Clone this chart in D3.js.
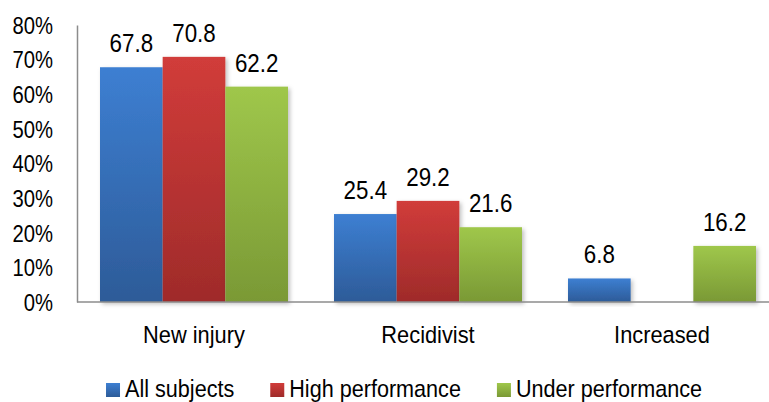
<!DOCTYPE html>
<html>
<head>
<meta charset="utf-8">
<script src="https://cdn.jsdelivr.net/npm/d3@7"></script>
<style>
  html, body { margin: 0; padding: 0; background: #fff; }
  svg { display: block; }
  text { font-family: "Liberation Sans", Arial, sans-serif; fill: #000; }
</style>
</head>
<body>
<svg id="chart" width="769" height="402"></svg>
<script>
const categories = ["New injury", "Recidivist", "Increased"];
const seriesNames = ["All subjects", "High performance", "Under performance"];
const allSubjects = [67.8, 25.4, 6.8];
const highPerformance = [70.8, 29.2, null];
const underPerformance = [62.2, 21.6, 16.2];
const yTicks = [0, 10, 20, 30, 40, 50, 60, 70, 80];

const seriesValues = [allSubjects, highPerformance, underPerformance];
const colors = [
  { top: "#3d7fd2", bottom: "#2d5b98" },
  { top: "#d13c3a", bottom: "#9f2b2a" },
  { top: "#9fc74b", bottom: "#7a9935" }
];
const FONT = '"Liberation Sans", Arial, sans-serif';

const svg = d3.select("#chart");
const defs = svg.append("defs");
colors.forEach((c, i) => {
  const g = defs.append("linearGradient").attr("id", "grad" + i)
    .attr("x1", 0).attr("y1", 0).attr("x2", 0).attr("y2", 1);
  g.append("stop").attr("offset", "0%").attr("stop-color", c.top);
  g.append("stop").attr("offset", "100%").attr("stop-color", c.bottom);
});
const flt = defs.append("filter").attr("id", "shadow")
  .attr("x", "-20%").attr("y", "-10%").attr("width", "150%").attr("height", "130%");
flt.append("feDropShadow").attr("dx", 2).attr("dy", 2).attr("stdDeviation", 2)
  .attr("flood-color", "#000").attr("flood-opacity", 0.25);

const left = 77, baseY = 302, topY = 25;
const y = d3.scaleLinear().domain([0, 80]).range([baseY, topY]);
const x0 = d3.scaleBand().domain(categories).range([left, left + 3 * 234]).padding(0);
const x1 = d3.scaleBand().domain(seriesNames).range([23, 211]).padding(0);

// bars
const data = [];
categories.forEach((cat, ci) => {
  seriesNames.forEach((s, si) => {
    const v = seriesValues[si][ci];
    if (v !== null && v !== undefined) data.push({ cat, s, si, v });
  });
});

svg.append("g").selectAll("rect").data(data).join("rect")
  .attr("x", d => x0(d.cat) + x1(d.s))
  .attr("y", d => y(d.v))
  .attr("width", x1.bandwidth())
  .attr("height", d => baseY - y(d.v))
  .attr("fill", d => `url(#grad${d.si})`)
  .attr("filter", "url(#shadow)");

// y axis
const yAxis = svg.append("g").attr("transform", `translate(${left},0)`)
  .call(d3.axisLeft(y).tickValues(yTicks).tickSize(0).tickFormat(d => d + "%"));
yAxis.select(".domain").attr("stroke", "#8c8c8c").attr("stroke-width", 1.5);
yAxis.selectAll("text")
  .attr("x", 0).attr("dy", "0.36em")
  .attr("transform", `translate(-24,0) scale(0.88,1)`)
  .style("font-size", "23px").style("font-family", FONT)
  .attr("fill", "#000");

// x axis
const xAxis = svg.append("g").attr("transform", `translate(0,${baseY})`)
  .call(d3.axisBottom(x0).tickSize(0));
xAxis.select(".domain").remove();
svg.append("line").attr("x1", left).attr("x2", 769).attr("y1", baseY).attr("y2", baseY)
  .attr("stroke", "#8c8c8c").attr("stroke-width", 1.5);
xAxis.selectAll("text")
  .attr("y", 0).attr("dy", 0)
  .attr("transform", `translate(0,41) scale(0.89,1)`)
  .style("font-size", "24.5px").style("font-family", FONT)
  .attr("fill", "#000");

// value labels
svg.append("g").selectAll("g").data(data).join("g")
  .attr("transform", d => `translate(${x0(d.cat) + x1(d.s) + x1.bandwidth() / 2},${y(d.v) - 15}) scale(0.86,1)`)
  .append("text")
  .attr("text-anchor", "middle")
  .style("font-size", "26px")
  .text(d => d.v.toFixed(1));

// legend
const SX = 0.9;
const legend = svg.append("g");
const items = legend.selectAll("g").data(seriesNames).join("g");
items.append("rect").attr("width", 14).attr("height", 14).attr("y", -14)
  .attr("fill", (d, i) => `url(#grad${i})`);
items.append("text").attr("x", 0).attr("y", 0)
  .attr("transform", `translate(19,0) scale(${SX},1)`)
  .style("font-size", "24px").text(d => d);
const widths = [];
items.each(function () {
  const w = 19 + d3.select(this).select("text").node().getComputedTextLength() * SX;
  widths.push(w);
});
const gap = 36;
const total = widths.reduce((a, b) => a + b, 0) + gap * (widths.length - 1);
let start = 404 - total / 2;
items.attr("transform", (d, i) => {
  const tx = start;
  start += widths[i] + gap;
  return `translate(${tx},397)`;
});
</script>
</body>
</html>
